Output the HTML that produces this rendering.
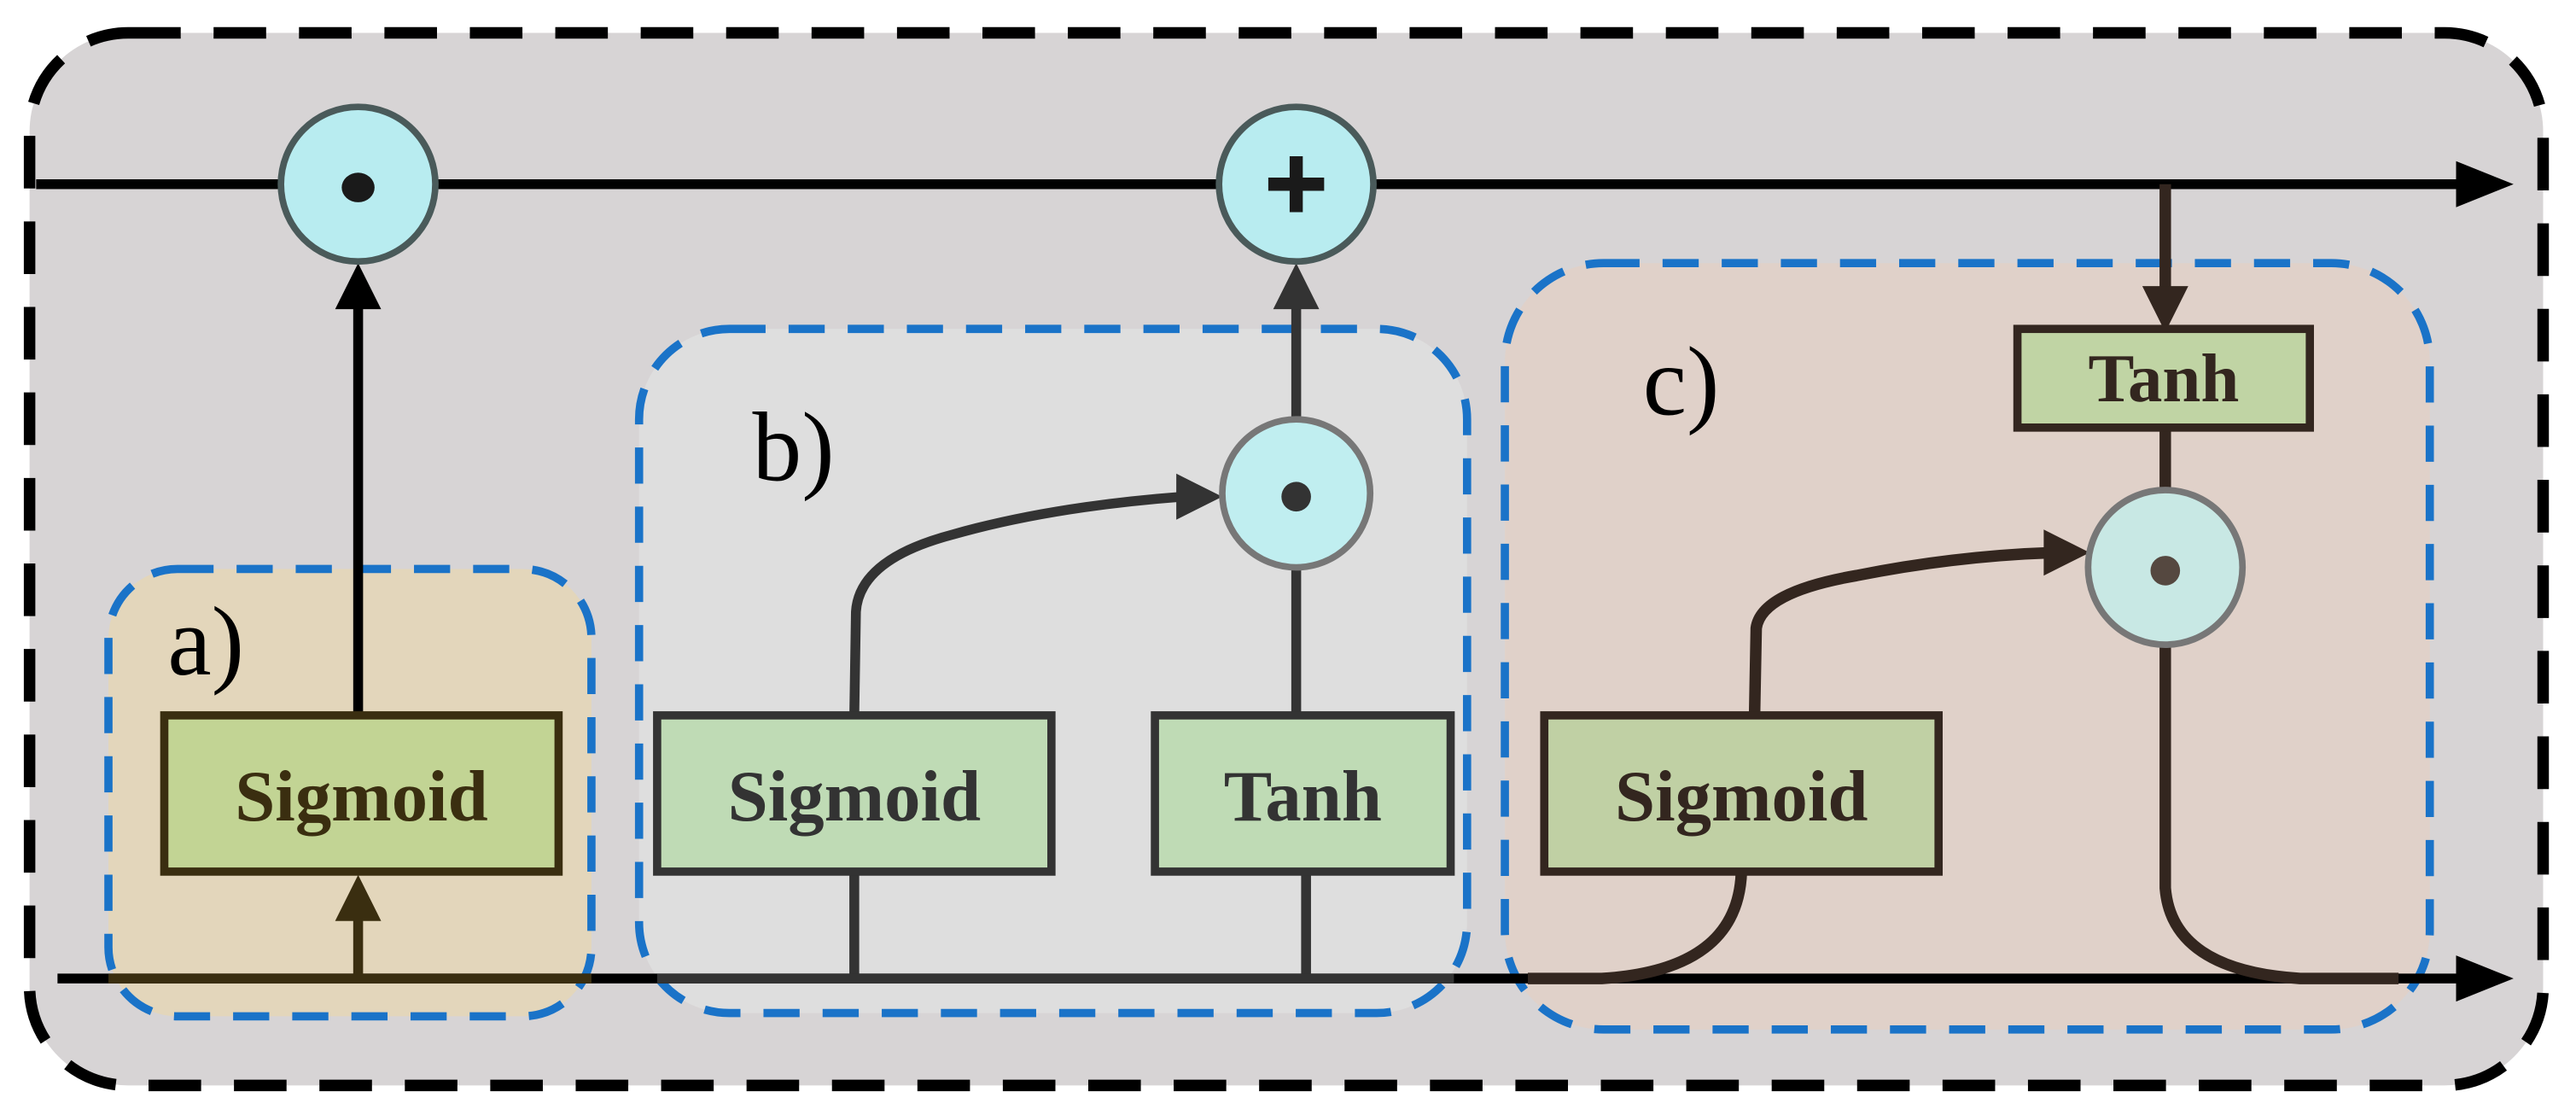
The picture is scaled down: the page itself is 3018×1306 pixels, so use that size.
<!DOCTYPE html>
<html><head><meta charset="utf-8"><style>html,body{margin:0;padding:0;background:#fff}svg{display:block}</style></head>
<body>
<svg width="3018" height="1306" viewBox="0 0 1568 678" preserveAspectRatio="none" xmlns="http://www.w3.org/2000/svg" font-family="'Liberation Serif', serif">
<!-- outer -->
<rect x="18" y="20" width="1530" height="640" rx="60" fill="#d7d4d5" stroke="#000" stroke-width="7" stroke-dasharray="32,20"/>
<!-- a -->
<rect x="66" y="346" width="294" height="272" rx="42" fill="#e3d6bb" stroke="#1a73c8" stroke-width="5" stroke-dasharray="22,14"/>
<!-- b -->
<rect x="389" y="200" width="504" height="416" rx="55" fill="#dedede" stroke="#1a73c8" stroke-width="5" stroke-dasharray="22,14"/>
<!-- c -->
<rect x="916" y="160" width="563" height="466" rx="60" fill="#e0d1c9" stroke="#1a73c8" stroke-width="5" stroke-dasharray="22,14"/>

<!-- main lines -->
<line x1="22" y1="112" x2="1500" y2="112" stroke="#000" stroke-width="6"/>
<path d="M1495,98 L1530,112 L1495,126 z" fill="#000"/>
<line x1="35" y1="595" x2="1500" y2="595" stroke="#000" stroke-width="6"/>
<path d="M1495,581 L1530,595 L1495,609 z" fill="#000"/>

<!-- a arrows -->
<line x1="218" y1="435" x2="218" y2="185" stroke="#000" stroke-width="6"/>
<path d="M204,188 L218,160 L232,188 z" fill="#000"/>
<line x1="218" y1="595" x2="218" y2="555" stroke="#3a2e10" stroke-width="6"/>
<path d="M204,560 L218,532 L232,560 z" fill="#3a2e10"/>
<line x1="66" y1="595" x2="360" y2="595" stroke="#3a2e10" stroke-width="6"/>

<!-- b connectors -->
<g stroke="#333" stroke-width="6" fill="none">
<line x1="520" y1="530" x2="520" y2="595"/>
<line x1="795" y1="530" x2="795" y2="595"/>
<line x1="400" y1="595" x2="885" y2="595"/>
<line x1="789" y1="435" x2="789" y2="345"/>
<line x1="789" y1="255" x2="789" y2="185"/>
<path d="M520,435 L521,372 Q523,340 580,325 Q640,308 720,302"/>
</g>
<path d="M775,188 L789,160 L803,188 z" fill="#333"/>
<path d="M716,288 L744,302 L716,316 z" fill="#333"/>

<!-- c connectors -->
<g stroke="#33261f" stroke-width="7" fill="none">
<line x1="1318" y1="112" x2="1318" y2="180"/>
<line x1="1318" y1="260" x2="1318" y2="300"/>
<path d="M1068,435 L1069,382 Q1072,360 1130,350 Q1190,338 1250,336"/>
<path d="M1060,530 Q1058,590 975,595 L930,595"/>
<path d="M1318,392 L1318,540 Q1322,590 1400,595 L1460,595"/>
</g>
<path d="M1304,174 L1318,202 L1332,174 z" fill="#33261f"/>
<path d="M1244,322 L1272,336 L1244,350 z" fill="#33261f"/>

<!-- circles -->
<circle cx="218" cy="112" r="47" fill="#b8ecf0" stroke="#4a5a5a" stroke-width="4"/>
<ellipse cx="218" cy="114" rx="10" ry="9" fill="#1a1a1a"/>
<circle cx="789" cy="112" r="47" fill="#b8ecf0" stroke="#4a5a5a" stroke-width="4"/>
<path d="M789,95 V129 M772,112 H806" stroke="#1a1a1a" stroke-width="8"/>
<circle cx="789" cy="300" r="45" fill="#c0eef0" stroke="#777" stroke-width="4"/>
<ellipse cx="789" cy="302" rx="9" ry="9" fill="#333"/>
<circle cx="1318" cy="345" r="47" fill="#c8e8e4" stroke="#777" stroke-width="4"/>
<ellipse cx="1318" cy="347" rx="9" ry="9" fill="#554840"/>

<!-- boxes -->
<rect x="100" y="435" width="240" height="95" fill="#c2d494" stroke="#3a2e10" stroke-width="5"/>
<text x="220" y="499" text-anchor="middle" font-size="44" font-weight="bold" fill="#3a2e10">Sigmoid</text>
<rect x="400" y="435" width="240" height="95" fill="#bfdbb5" stroke="#333" stroke-width="5"/>
<text x="520" y="499" text-anchor="middle" font-size="44" font-weight="bold" fill="#333">Sigmoid</text>
<rect x="703" y="435" width="180" height="95" fill="#bfdbb5" stroke="#333" stroke-width="5"/>
<text x="793" y="499" text-anchor="middle" font-size="44" font-weight="bold" fill="#333">Tanh</text>
<rect x="1228" y="200" width="178" height="60" fill="#c0d4a4" stroke="#33261f" stroke-width="5"/>
<text x="1317" y="244" text-anchor="middle" font-size="42" font-weight="bold" fill="#33261f">Tanh</text>
<rect x="940" y="435" width="240" height="95" fill="#c0d0a4" stroke="#33261f" stroke-width="5"/>
<text x="1060" y="499" text-anchor="middle" font-size="44" font-weight="bold" fill="#33261f">Sigmoid</text>

<!-- labels -->
<text x="102" y="410" font-size="60" fill="#000">a)</text>
<text x="458" y="292" font-size="60" fill="#000">b)</text>
<text x="1000" y="252" font-size="60" fill="#000">c)</text>
</svg>
</body></html>
